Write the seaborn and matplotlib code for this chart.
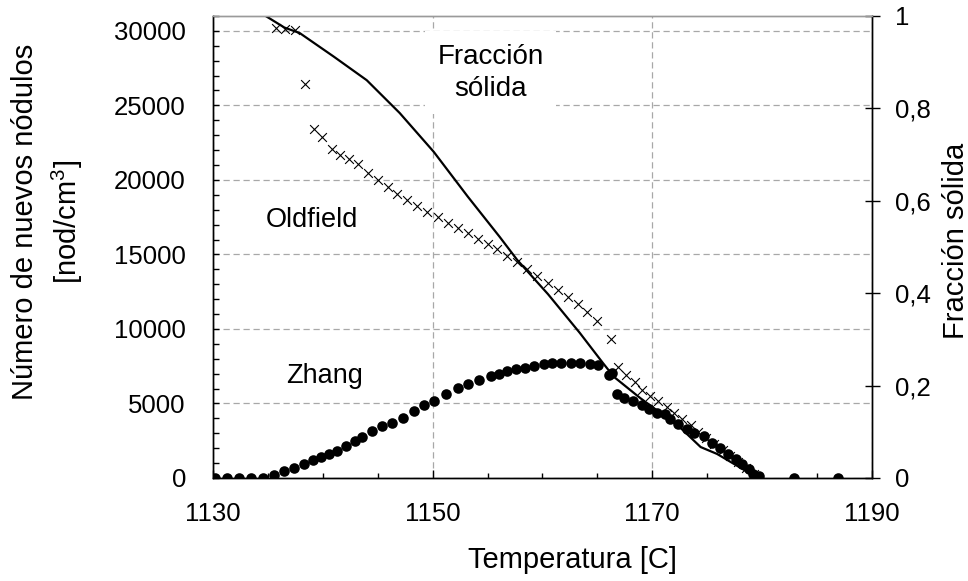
import matplotlib
matplotlib.use("Agg")
import matplotlib.pyplot as plt
import seaborn as sns
from matplotlib.ticker import MultipleLocator, FixedLocator

# ---------------- data ----------------
# Fraccion solida (right axis)
fs_temp = [1134.8, 1136.5, 1137.9, 1141.0, 1144.0, 1147.0, 1150.1, 1153.2, 1156.1,
           1157.7, 1160.5, 1163.4, 1165.5, 1166.5, 1168.9, 1172.5, 1174.4, 1175.9, 1179.6]
fs_val = [1.000, 0.975, 0.963, 0.912, 0.861, 0.790, 0.706, 0.609, 0.522,
          0.472, 0.398, 0.314, 0.249, 0.219, 0.173, 0.110, 0.067, 0.052, 0.000]

# Oldfield (left axis)
old_temp = [1135.7, 1136.6, 1137.5, 1138.4, 1139.2, 1139.9, 1140.8, 1141.6, 1142.4, 1143.2,
            1144.1, 1145.0, 1145.9, 1146.8, 1147.7, 1148.6, 1149.5, 1150.5, 1151.4, 1152.3,
            1153.2, 1154.1, 1155.0, 1155.9, 1156.8, 1157.7, 1158.6, 1159.5, 1160.5, 1161.4,
            1162.3, 1163.2, 1164.1, 1165.0, 1166.2, 1166.9, 1167.6, 1168.4, 1169.1, 1169.8,
            1170.5, 1171.3, 1172.0, 1172.7, 1173.5, 1174.2, 1174.9, 1175.6, 1176.4, 1177.1,
            1177.8, 1178.5, 1179.3]
old_n = [30200, 30100, 30050, 26440, 23420, 22880, 22080, 21680, 21410, 21070,
         20470, 20000, 19530, 19060, 18660, 18250, 17850, 17520, 17110, 16780,
         16440, 16040, 15700, 15370, 14900, 14500, 14030, 13560, 13090, 12620,
         12150, 11680, 11140, 10540, 9330, 7450, 6910, 6440, 5910, 5500,
         5170, 4770, 4360, 3960, 3560, 3090, 2680, 2280, 1880, 1480,
         1070, 670, 270]

# Zhang (left axis)
zh_temp = [1130.2, 1131.3, 1132.4, 1133.5, 1134.6, 1135.6, 1136.5, 1137.4, 1138.3, 1139.1,
           1139.8, 1140.6, 1141.3, 1142.1, 1142.9, 1143.6, 1144.5, 1145.4, 1146.3, 1147.3,
           1148.3, 1149.2, 1150.1, 1151.2, 1152.3, 1153.2, 1154.2, 1155.3, 1156.0, 1156.8,
           1157.6, 1158.4, 1159.2, 1160.1, 1160.9, 1161.7, 1162.6, 1163.4, 1164.3, 1165.1,
           1166.1, 1166.3, 1166.8, 1167.4, 1168.2, 1169.1, 1169.7, 1170.4, 1171.2, 1171.6,
           1172.3, 1173.2, 1173.8, 1174.7, 1175.4, 1176.2, 1176.9, 1177.6, 1178.2, 1178.8,
           1179.2, 1179.7, 1182.9, 1186.9]
zh_n = [0, 0, 0, 0, 0, 200, 470, 690, 920, 1190,
        1430, 1630, 1810, 2150, 2480, 2750, 3150, 3490, 3710, 4050,
        4500, 4900, 5170, 5620, 6020, 6290, 6560, 6850, 7000, 7180,
        7300, 7400, 7520, 7630, 7700, 7740, 7740, 7700, 7630, 7580,
        6910, 7070, 5660, 5390, 5170, 4900, 4610, 4380, 4280, 3940,
        3640, 3270, 3040, 2820, 2370, 2030, 1590, 1260, 920, 580,
        290, 130, 0, 0]

x_ticks = [1130, 1150, 1170, 1190]
left_ticks = [0, 5000, 10000, 15000, 20000, 25000, 30000]
right_ticks = [0, 0.2, 0.4, 0.6, 0.8, 1.0]
right_labels = ["0", "0,2", "0,4", "0,6", "0,8", "1"]

annotations = [("Fracción\nsólida", 1155.3, 27200, 20),
               ("Oldfield", 1139.0, 17290, 19.5),
               ("Zhang", 1140.2, 6840, 19.5)]

# ---------------- style ----------------
sns.set_theme(style="white")
plt.rcParams['font.family'] = ['Liberation Sans', 'DejaVu Sans']
plt.rcParams['mathtext.fontset'] = 'custom'
plt.rcParams['mathtext.rm'] = 'Liberation Sans'
plt.rcParams['mathtext.it'] = 'Liberation Sans:italic'
plt.rcParams['text.color'] = 'black'
plt.rcParams['axes.labelcolor'] = 'black'
plt.rcParams['xtick.color'] = 'black'
plt.rcParams['ytick.color'] = 'black'

fig = plt.figure(figsize=(9.68, 5.81), dpi=100)
ax = fig.add_axes([0.2200, 0.1773, 0.6808, 0.7952])
ax2 = ax.twinx()

ax.set_axisbelow(True)
ax.grid(True, which='major', axis='both', color='#a8a8a8',
        linestyle=(0, (5, 3)), linewidth=0.9)
ax2.grid(False)

sns.scatterplot(x=old_temp, y=old_n, marker='x', s=40, color='black',
                linewidth=0.8, ax=ax, zorder=3)
sns.scatterplot(x=zh_temp, y=zh_n, marker='o', s=58, color='black',
                edgecolor='black', linewidth=0, ax=ax, zorder=4)
sns.lineplot(x=fs_temp, y=fs_val, color='black', linewidth=1.6, sort=False,
             estimator=None, ax=ax2)

ax.set_xlim(1130, 1190)
ax.set_ylim(0, 31000)
ax2.set_ylim(0, 1)

ax.xaxis.set_major_locator(FixedLocator(x_ticks))
ax.xaxis.set_minor_locator(MultipleLocator(5))
ax.yaxis.set_major_locator(FixedLocator(left_ticks))
ax.yaxis.set_minor_locator(MultipleLocator(1000))
ax2.set_yticks(right_ticks, right_labels)

ax.tick_params(axis='x', which='major', direction='in', length=6, width=1,
               pad=17, labelsize=18.5, bottom=True, top=False)
ax.tick_params(axis='x', which='minor', direction='in', length=3.5, width=1,
               bottom=True, top=False)
ax.tick_params(axis='y', which='both', direction='in', length=4, width=1,
               left=True, right=False, pad=19.5, labelsize=18.5)
ax.tick_params(axis='y', which='minor', labelleft=False)
ax2.tick_params(axis='y', which='major', direction='inout', length=10.8, width=1,
                pad=11, labelsize=18.5, right=True, left=False)
ax2.tick_params(axis='y', which='minor', right=False, left=False)

for a in (ax, ax2):
    for side in ('left', 'bottom', 'right'):
        a.spines[side].set_color('black')
        a.spines[side].set_linewidth(1)
    a.spines['top'].set_color('#9a9a9a')
    a.spines['top'].set_linewidth(1)

ax.set_xlabel('Temperatura [C]', fontsize=21)
ax.xaxis.set_label_coords(0.546, -0.147)
ax.set_ylabel('Número de nuevos nódulos\n[nod/cm$^3$]', fontsize=21, linespacing=1.4)
ax.yaxis.set_label_coords(-0.194, 0.554)
ax2.set_ylabel('Fracción sólida', fontsize=21)
ax2.yaxis.set_label_coords(1.106, 0.513)

for txt, tx, ty, fsz in annotations:
    kw = {}
    if txt.startswith('Fracc'):
        kw['bbox'] = dict(boxstyle='square,pad=0.45', fc='white', ec='none')
    ax.text(tx, ty, txt, ha='center', va='center', fontsize=fsz,
            linespacing=1.3, zorder=2.5, **kw)

fig.savefig('out.png', dpi=100)
